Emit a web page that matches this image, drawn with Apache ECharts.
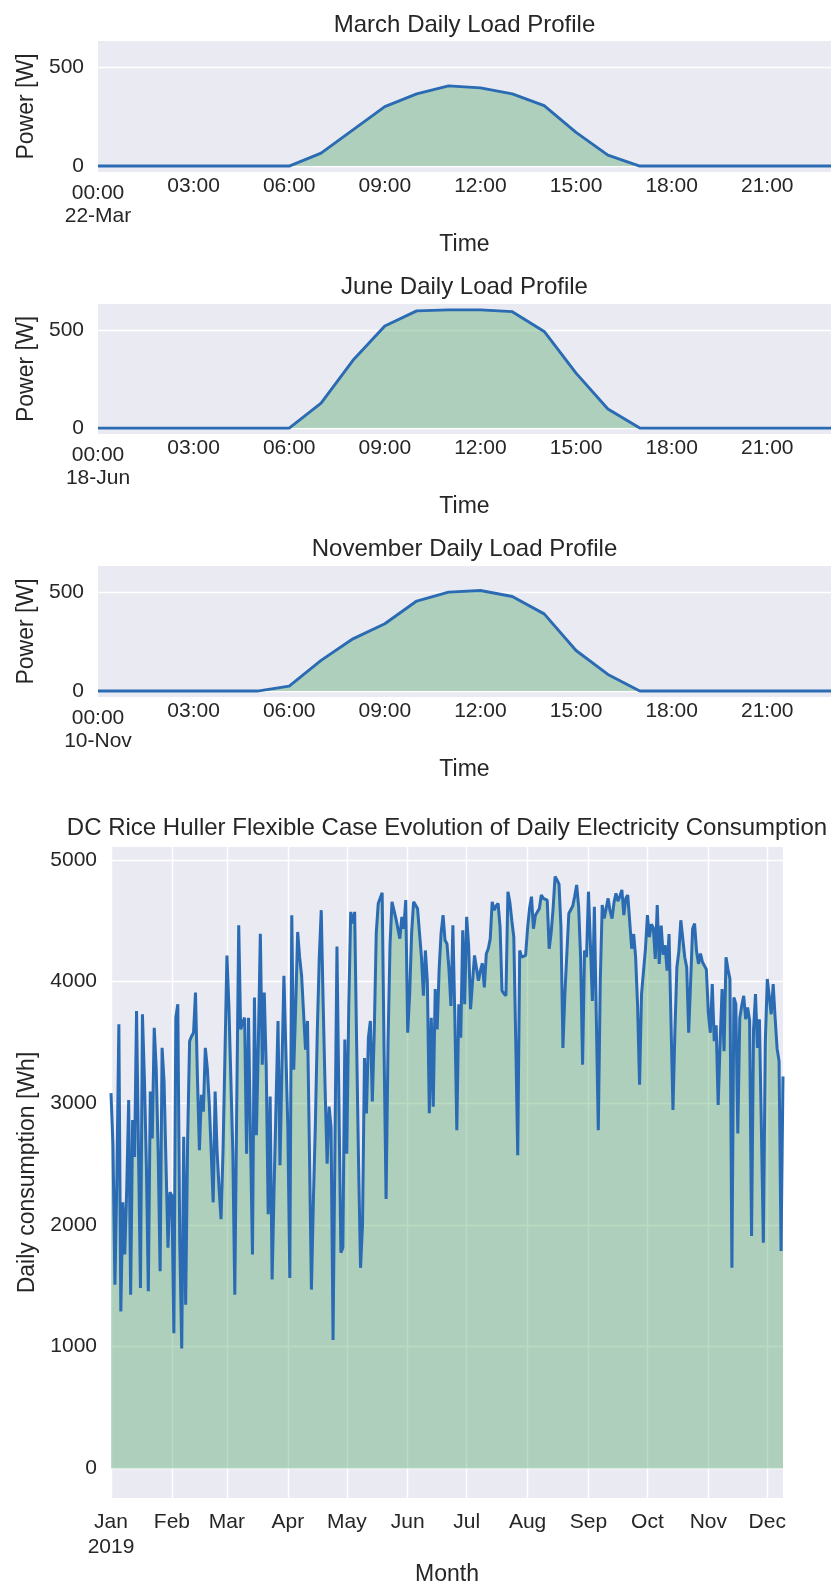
<!DOCTYPE html>
<html><head><meta charset="utf-8">
<script src="https://cdn.jsdelivr.net/npm/echarts@6/dist/echarts.min.js"></script>
<style>html,body{margin:0;padding:0;background:#fff}#c{width:833px;height:1587px}</style>
</head><body><div id="c"></div>
<script>
// ---------- data ----------
const hours = [0,1,2,3,4,5,6,7,8,9,10,11,12,13,14,15,16,17,18,19,20,21,22,23];
const marchLoad = [0,0,0,0,0,0,0,65,183,300,365,405,395,365,305,170,55,0,0,0,0,0,0,0];
const juneLoad  = [0,0,0,0,0,0,0,127,345,520,597,602,602,593,492,280,97,0,0,0,0,0,0,0];
const novLoad   = [0,0,0,0,0,0,25,155,264,340,455,500,508,478,390,205,84,0,0,0,0,0,0,0];
const hourTicks = [3,6,9,12,15,18,21];
const hourTickLabels = ['03:00','06:00','09:00','12:00','15:00','18:00','21:00'];
const firstHourLabel = '00:00';
const panelTitles = ['March Daily Load Profile','June Daily Load Profile','November Daily Load Profile'];
const panelDates = ['22-Mar','18-Jun','10-Nov'];
const powerTicks = [0,500];

// daily consumption [Wh], 2019-01-01 ... 2019-12-09
const dailyWh = [
3083,2655,1510,2400,3648,1290,2186,1758,2300,3027,
1427,2862,2558,3758,2600,1482,3731,3200,2500,1455,
3096,2710,3620,3290,2600,1620,3455,3179,2500,1814,
2269,2240,1110,3703,3813,1855,985,2724,1345,2700,
3510,3550,3579,3910,3200,2614,3069,2931,3455,3290,
3000,2600,2186,3096,2600,2300,2048,
2600,3400,4214,3800,3786,2600,1427,3000,4462,3607,
3662,3703,2586,3703,2700,1758,3869,2738,3500,4393,
3317,3910,3300,2089,3055,1552,2300,3000,3676,2490,
3300,4048,4062,2800,1565,4545,3276,3800,4407,4200,
4048,4034,3441,3676,2600,1469,2200,2820,3600,4200,
4586,3800,3100,2503,2972,2800,1055,
2700,4288,3000,1772,1814,3524,2586,3800,4572,4476,
4572,3500,2500,1648,2000,3372,2917,3538,3676,3014,
3600,4400,4641,4655,4730,3400,2213,3500,4300,4655,
4640,4517,4530,4352,4530,4434,4669,3579,3896,4400,
4655,4655,4600,4400,4200,3883,4255,4000,2917,3703,
2972,3938,3607,4100,4400,4545,4338,
4310,4100,3800,4462,3700,2779,3814,3538,4420,3814,
4531,4300,3772,4000,4214,4214,4007,4090,4150,3952,
4228,4269,4350,4655,4586,4620,4641,4450,3924,3900,
3883,4738,4650,4500,4365,3500,2572,4255,4200,4214,
4214,4434,4600,4697,4434,4545,4530,4600,4710,4683,
4680,4669,4269,4400,4600,4862,4834,
4800,4450,3455,3900,4228,4559,4550,4620,4700,4793,
4614,4200,3317,4255,4200,4738,4300,3841,4614,3700,
2779,4000,4628,4517,4600,4683,4580,4517,4650,4724,
4660,4700,4752,4545,4683,4710,4700,4269,4390,4200,
3800,3152,3896,3896,4269,4545,4365,4470,4440,4186,
4628,4145,4460,4220,4300,4090,4390,4380,
2945,3600,4117,4250,4503,4490,4200,4117,3579,4000,
4434,4476,4250,4145,4230,4160,4145,4100,3745,3579,
3979,3510,3640,2986,3500,3938,3428,4200,4100,4021,
1648,3869,3814,2752,3700,3800,3883,3690,3786,3680,
1910,3600,3896,3455,3690,2800,1855,3500,4021,4007,
3731,3979,3700,3450,3345,1786,3220
];
const monthStarts = [0,31,59,90,120,151,181,212,243,273,304,334];
const monthLabels = ['Jan\n2019','Feb','Mar','Apr','May','Jun','Jul','Aug','Sep','Oct','Nov','Dec'];
const whTicks = [0,1000,2000,3000,4000,5000];

// ---------- style ----------
const FONT = "'Liberation Sans', Arial, Helvetica, sans-serif";
const TXT = '#262626';
const BG = '#eaeaf2';
const LINE = '#2a6bb3';
const FILL = '#55a868';

const topGrids = [
  {left: 98, right: 2, top: 41, height: 131},
  {left: 98, right: 2, top: 304, height: 130},
  {left: 98, right: 2, top: 566, height: 131}
];
const bottomGrid = {left: 111, right: 50, top: 847, height: 655};

const grids = topGrids.concat([bottomGrid]).map(g => Object.assign({
  show: true, backgroundColor: BG, borderWidth: 0, containLabel: false
}, g));

const xAxes = [], yAxes = [], series = [], graphics = [];
const loads = [marchLoad, juneLoad, novLoad];
const titleY = [25, 287, 549];
const nameStyle = {color: TXT, fontSize: 23, fontFamily: FONT};

loads.forEach((load, i) => {
  // main hour axis (03:00 ... 21:00)
  xAxes.push({
    type: 'value', gridIndex: i, min: 0, max: 23, position: 'bottom',
    axisLine: {show: false},
    axisTick: {show: false, customValues: hourTicks},
    splitLine: {show: false},
    axisLabel: {
      customValues: hourTicks, margin: 4, color: TXT, fontSize: 21, fontFamily: FONT,
      formatter: v => hourTickLabels[hourTicks.indexOf(v)]
    },
    name: 'Time', nameLocation: 'middle', nameGap: 61,
    nameTextStyle: nameStyle
  });
  yAxes.push({
    type: 'value', gridIndex: i, min: -30, max: 632,
    axisLine: {show: false},
    axisTick: {show: false, customValues: powerTicks},
    axisLabel: {customValues: powerTicks, margin: 14, color: TXT, fontSize: 21, fontFamily: FONT,
                formatter: v => String(v)},
    splitLine: {show: true, lineStyle: {color: '#ffffff', width: 1.4}},
    name: 'Power [W]', nameLocation: 'middle', nameGap: 47, nameRotate: 90,
    nameTextStyle: nameStyle
  });
  series.push({
    type: 'line', xAxisIndex: i, yAxisIndex: i,
    data: hours.map((h, k) => [h, load[k]]),
    showSymbol: false, symbol: 'none',
    lineStyle: {color: LINE, width: 2.9},
    areaStyle: {color: FILL, opacity: 0.4},
    animation: false
  });
  graphics.push({
    type: 'text', x: 464.5, y: titleY[i],
    style: {text: panelTitles[i], fill: TXT, font: '24px ' + FONT, textAlign: 'center', textVerticalAlign: 'middle'}
  });
});

// first (date) label of each hour axis, on its own axis
loads.forEach((load, i) => {
  xAxes.push({
    type: 'value', gridIndex: i, min: 0, max: 23, position: 'bottom',
    axisLine: {show: false},
    axisTick: {show: false, customValues: [0]},
    splitLine: {show: false},
    axisLabel: {
      customValues: [0], margin: 10, color: TXT, fontSize: 21, fontFamily: FONT, lineHeight: 23,
      formatter: () => firstHourLabel + '\n' + panelDates[i]
    }
  });
});

// bottom chart
const days = dailyWh.map((_, k) => k);
xAxes.push({
  type: 'value', gridIndex: 3, min: 0, max: days[days.length - 1],
  axisLine: {show: false},
  axisTick: {show: false, customValues: monthStarts},
  splitLine: {show: true, lineStyle: {color: '#ffffff', width: 1.4}},
  axisLabel: {
    customValues: monthStarts, margin: 12, color: TXT, fontSize: 21, fontFamily: FONT, lineHeight: 25,
    formatter: v => monthLabels[monthStarts.indexOf(v)]
  },
  name: 'Month', nameLocation: 'middle', nameGap: 65,
  nameTextStyle: nameStyle
});
yAxes.push({
  type: 'value', gridIndex: 3, min: -243, max: 5105,
  axisLine: {show: false},
  axisTick: {show: false, customValues: whTicks},
  axisLabel: {customValues: whTicks, margin: 14, color: TXT, fontSize: 21, fontFamily: FONT,
              formatter: v => String(v)},
  splitLine: {show: true, lineStyle: {color: '#ffffff', width: 1.4}},
  name: 'Daily consumption [Wh]', nameLocation: 'middle', nameGap: 64, nameRotate: 90,
  nameTextStyle: nameStyle
});
series.push({
  type: 'line', xAxisIndex: 6, yAxisIndex: 3,
  data: days.map((d, k) => [d, dailyWh[k]]),
  showSymbol: false, symbol: 'none',
  lineStyle: {color: LINE, width: 3},
  areaStyle: {color: FILL, opacity: 0.4},
  animation: false
});
graphics.push({
  type: 'text', x: 447, y: 828,
  style: {text: 'DC Rice Huller Flexible Case Evolution of Daily Electricity Consumption', fill: TXT,
          font: '24px ' + FONT, textAlign: 'center', textVerticalAlign: 'middle'}
});

const chart = echarts.init(document.getElementById('c'), null, {renderer: 'canvas'});
chart.setOption({
  animation: false,
  backgroundColor: '#ffffff',
  grid: grids,
  xAxis: xAxes,
  yAxis: yAxes,
  series: series,
  graphic: graphics
});
</script>
</body></html>
